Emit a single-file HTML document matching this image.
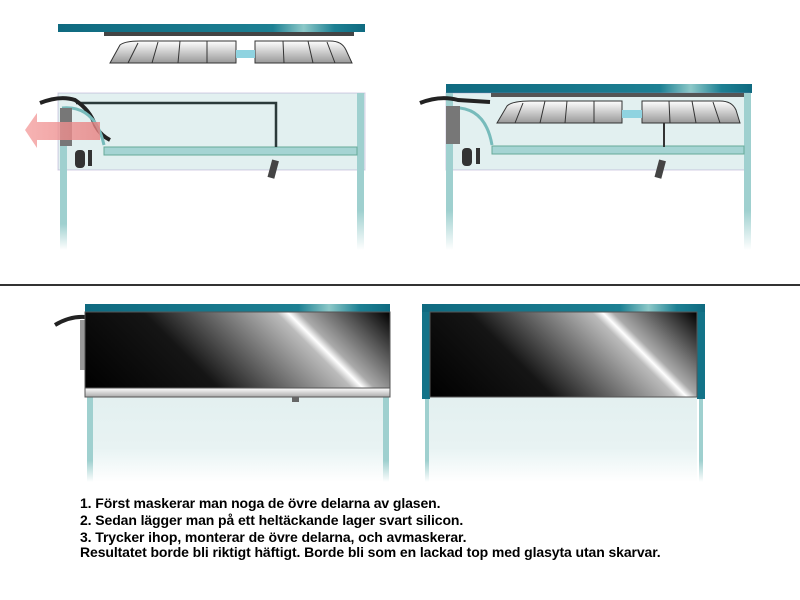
<!DOCTYPE html>
<html><head><meta charset="utf-8"><style>
html,body{margin:0;padding:0;background:#fff;width:800px;height:600px;overflow:hidden}
.t{position:absolute;left:80px;font:bold 14px "Liberation Sans",sans-serif;letter-spacing:-0.1px;color:#000;white-space:nowrap}
</style></head><body>
<svg width="800" height="600" style="position:absolute;left:0;top:0">
<defs>
<linearGradient id="lid" x1="0" x2="1"><stop offset="0" stop-color="#0f6a80"/><stop offset="0.7" stop-color="#1d8093"/><stop offset="0.8" stop-color="#8cc8c8"/><stop offset="0.9" stop-color="#1d8093"/><stop offset="1" stop-color="#0f6a80"/></linearGradient>
<linearGradient id="fix" x1="0" y1="0" x2="0" y2="1"><stop offset="0" stop-color="#fff"/><stop offset="1" stop-color="#999"/></linearGradient>
<linearGradient id="fade" x1="0" y1="0" x2="0" y2="1"><stop offset="0" stop-color="#9fd0cf"/><stop offset="0.75" stop-color="#9fd0cf"/><stop offset="1" stop-color="#fff"/></linearGradient>
<linearGradient id="glass" x1="0" y1="0" x2="0" y2="1"><stop offset="0" stop-color="#e3f0f0"/><stop offset="0.6" stop-color="#e8f3f3"/><stop offset="1" stop-color="#fff"/></linearGradient>
<linearGradient id="blk1" gradientUnits="userSpaceOnUse" x1="85" y1="388" x2="275.5" y2="197.5"><stop offset="0" stop-color="#000"/><stop offset="0.35" stop-color="#151515"/><stop offset="0.7" stop-color="#bbb"/><stop offset="0.73" stop-color="#fff"/><stop offset="0.76" stop-color="#aaa"/><stop offset="1" stop-color="#000"/></linearGradient>
<linearGradient id="blk2" gradientUnits="userSpaceOnUse" x1="430" y1="397" x2="606" y2="221"><stop offset="0" stop-color="#000"/><stop offset="0.35" stop-color="#151515"/><stop offset="0.7" stop-color="#bbb"/><stop offset="0.73" stop-color="#fff"/><stop offset="0.76" stop-color="#aaa"/><stop offset="1" stop-color="#000"/></linearGradient>
<linearGradient id="arr" x1="0" x2="1"><stop offset="0" stop-color="#f4a0a0"/><stop offset="1" stop-color="#e88080"/></linearGradient>
<linearGradient id="sil" x1="0" y1="0" x2="0" y2="1"><stop offset="0" stop-color="#fff"/><stop offset="1" stop-color="#aaa"/></linearGradient>
</defs>
<!-- TOP LEFT -->
<rect x="58" y="24" width="307" height="8" fill="url(#lid)"/>
<rect x="104" y="32" width="250" height="4" fill="#444"/>
<path d="M110 63 L120 45 Q125 41 140 41 L236 41 L236 63 Z" fill="url(#fix)" stroke="#333"/>
<path d="M255 41 L330 41 Q342 41 346 50 L352 63 L255 63 Z" fill="url(#fix)" stroke="#333"/>
<rect x="236" y="50" width="19" height="8" fill="#8fd3e0"/>
<g stroke="#333" fill="none"><path d="M128 63 L138 43M152 63 L158 42M178 63 L180 41M207 63 L207 41M284 63 L283 41M313 63 L308 41M335 63 L327 42"/></g>
<rect x="58" y="93" width="307" height="77" fill="#e2f0f0" stroke="#98b" stroke-opacity="0.4"/>
<rect x="60" y="146" width="7" height="104" fill="url(#fade)"/>
<rect x="357" y="93" width="7" height="157" fill="url(#fade)"/>
<rect x="104" y="147" width="253" height="8" fill="#a5d4d3" stroke="#6a9"/>
<path d="M76 103 L276 103 L276 147" stroke="#2b3a3a" stroke-width="2.5" fill="none"/>
<path d="M40 103 Q60 95 75 100 Q90 110 95 125 Q100 135 110 140" stroke="#222" stroke-width="4" fill="none"/>
<path d="M62 108 Q95 105 104 145" stroke="#7bb" stroke-width="3" fill="none"/>
<rect x="60" y="108" width="12" height="38" fill="#777"/>
<rect x="75" y="150" width="10" height="18" rx="4" fill="#333"/>
<rect x="88" y="150" width="4" height="16" fill="#333"/>
<rect x="270" y="160" width="7" height="18" fill="#444" transform="rotate(15 273 168)"/>
<path d="M25 130 L37 113 L37 122 L100 122 L100 140 L37 140 L37 148 Z" fill="url(#arr)" opacity="0.8"/>
<!-- TOP RIGHT -->
<rect x="446" y="84" width="306" height="9" fill="url(#lid)"/>
<rect x="446" y="93" width="304" height="77" fill="#e2f0f0" stroke="#98b" stroke-opacity="0.4"/>
<rect x="446" y="93" width="7" height="157" fill="url(#fade)"/>
<rect x="744" y="93" width="7" height="157" fill="url(#fade)"/>
<rect x="491" y="93" width="253" height="4" fill="#555"/>
<path d="M497 123 L507 106 Q512 101 530 101 L622 101 L622 123 Z" fill="url(#fix)" stroke="#333"/>
<path d="M642 101 L720 101 Q732 101 736 110 L740 123 L642 123 Z" fill="url(#fix)" stroke="#333"/>
<rect x="622" y="110" width="20" height="8" fill="#8fd3e0"/>
<g stroke="#333" fill="none"><path d="M515 123 L523 103M540 123 L545 101M565 123 L567 101M594 123 L594 101M670 123 L669 101M696 123 L692 101M720 123 L713 102"/></g>
<rect x="492" y="146" width="252" height="8" fill="#a5d4d3" stroke="#6a9"/>
<rect x="663" y="123" width="2" height="24" fill="#333"/>
<path d="M420 103 Q440 95 458 100 L490 102" stroke="#222" stroke-width="4" fill="none"/>
<path d="M450 108 Q485 105 492 145" stroke="#7bb" stroke-width="3" fill="none"/>
<rect x="446" y="106" width="14" height="38" fill="#777"/>
<rect x="462" y="148" width="10" height="18" rx="4" fill="#333"/>
<rect x="476" y="148" width="4" height="16" fill="#333"/>
<rect x="657" y="160" width="7" height="18" fill="#444" transform="rotate(15 660 168)"/>
<!-- separator -->
<rect x="0" y="284" width="800" height="2" fill="#333"/>
<!-- BOTTOM LEFT -->
<rect x="93" y="397" width="290" height="85" fill="url(#glass)"/>
<rect x="87" y="397" width="6" height="85" fill="url(#fade)"/>
<rect x="383" y="397" width="6" height="85" fill="url(#fade)"/>
<path d="M55 325 Q70 316 85 317" stroke="#222" stroke-width="4" fill="none"/>
<rect x="80" y="320" width="5" height="50" fill="#999"/>
<rect x="85" y="304" width="305" height="8" fill="url(#lid)"/>
<rect x="85" y="312" width="305" height="76" fill="url(#blk1)" stroke="#555"/>
<rect x="85" y="388" width="305" height="9" fill="url(#sil)" stroke="#555"/>
<rect x="292" y="397" width="7" height="5" fill="#666"/>
<!-- BOTTOM RIGHT -->
<rect x="428" y="397" width="269" height="85" fill="url(#glass)"/>
<rect x="425" y="397" width="4" height="85" fill="url(#fade)"/>
<rect x="699" y="397" width="4" height="85" fill="url(#fade)"/>
<rect x="422" y="304" width="283" height="8" fill="url(#lid)"/>
<rect x="422" y="312" width="8" height="87" fill="#137388"/>
<rect x="697" y="312" width="8" height="87" fill="#137388"/>
<rect x="430" y="312" width="267" height="85" fill="url(#blk2)" stroke="#555"/>
</svg>
<div class="t" style="top:495px">1. Först maskerar man noga de övre delarna av glasen.</div>
<div class="t" style="top:512px">2. Sedan lägger man på ett heltäckande lager svart silicon.</div>
<div class="t" style="top:529px">3. Trycker ihop, monterar de övre delarna, och avmaskerar.</div>
<div class="t" style="top:544px">Resultatet borde bli riktigt häftigt. Borde bli som en lackad top med glasyta utan skarvar.</div>
</body></html>
